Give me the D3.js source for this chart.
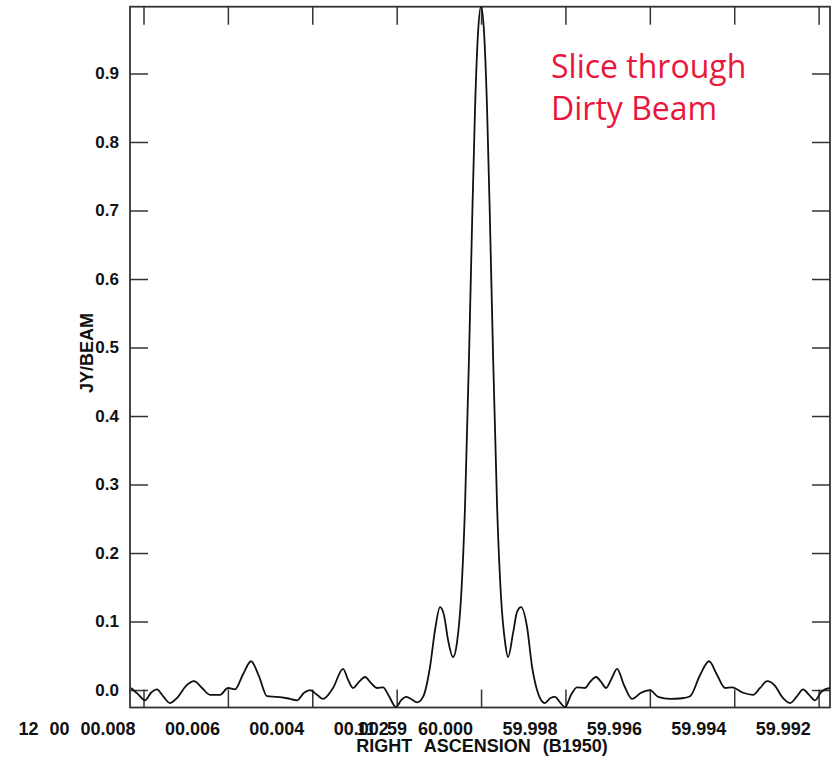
<!DOCTYPE html>
<html>
<head>
<meta charset="utf-8">
<script src="https://cdn.jsdelivr.net/npm/d3@7"></script>
<style>
  body { margin: 0; background: #fff; }
</style>
</head>
<body>
<svg id="chart" width="833" height="758"></svg>
<script>
// slice through the dirty beam: offset from beam centre (ms of RA) and Jy/beam
var offsetMs = [-8.296, -8.130, -7.964, -7.822, -7.680, -7.537, -7.371, -7.182, -6.992, -6.802,
  -6.613, -6.423, -6.186, -5.997, -5.831, -5.641, -5.452, -5.262, -5.072, -4.835,
  -4.598, -4.361, -4.195, -4.053, -3.887, -3.745, -3.508, -3.271, -3.152, -3.034,
  -2.892, -2.749, -2.607, -2.465, -2.323, -2.181, -2.015, -1.896, -1.778, -1.659,
  -1.517, -1.375, -1.209, -1.090, -0.972, -0.877, -0.782, -0.664,
  -0.569, -0.474, -0.379, -0.284, -0.213, -0.142, -0.071, 0, 0.071, 0.142, 0.213, 0.284,
  0.379, 0.474, 0.569,
  0.640, 0.758, 0.853, 0.948, 1.090, 1.209, 1.327, 1.398, 1.517, 1.635,
  1.754, 1.872, 1.991, 2.133, 2.275, 2.465, 2.584, 2.726, 2.844, 2.963,
  3.081, 3.224, 3.389, 3.579, 3.792, 4.006, 4.195, 4.480, 4.764, 4.954,
  5.191, 5.404, 5.594, 5.783, 5.949, 6.210, 6.447, 6.613, 6.779, 6.968,
  7.134, 7.324, 7.490, 7.632, 7.774, 7.916, 8.059, 8.153, 8.270];
var beamJy = [0.003, -0.006, -0.015, -0.004, 0.001, -0.009, -0.019, -0.010, 0.006, 0.013,
  0.003, -0.007, -0.007, 0.003, 0.001, 0.023, 0.042, 0.020, -0.009, -0.010,
  -0.012, -0.015, -0.004, 0.000, -0.007, -0.013, 0.003, 0.031, 0.015, 0.003,
  0.012, 0.019, 0.010, 0.003, 0.004, -0.009, -0.025, -0.015, -0.010, -0.013,
  -0.018, -0.010, 0.034, 0.088, 0.121, 0.109, 0.073, 0.048,
  0.070, 0.135, 0.27, 0.49, 0.68, 0.85, 0.96, 0.998, 0.96, 0.85, 0.68, 0.49,
  0.27, 0.135, 0.070,
  0.048, 0.083, 0.114, 0.121, 0.092, 0.034, 0.000, -0.012, -0.019, -0.012,
  -0.010, -0.018, -0.025, -0.007, 0.004, 0.003, 0.012, 0.019, 0.012, 0.003,
  0.015, 0.031, 0.007, -0.013, -0.004, 0.000, -0.010, -0.013, -0.012, -0.009,
  0.022, 0.042, 0.022, 0.003, 0.004, -0.004, -0.007, 0.003, 0.013, 0.006,
  -0.010, -0.019, -0.009, 0.001, -0.007, -0.015, -0.003, 0.001, 0.003];

var yTicks = [0, 0.1, 0.2, 0.3, 0.4, 0.5, 0.6, 0.7, 0.8, 0.9];
var xTickOffsets = [-8, -6, -4, -2, 0, 2, 4, 6, 8];
var raCentre = 59.99916;   // seconds of RA at beam centre
var raSec = [60.008, 60.006, 60.004, 60.002, 60.000, 59.998, 59.996, 59.994, 59.992];
var raText = ["00.008", "00.006", "00.004", "00.002", "60.000", "59.998", "59.996", "59.994", "59.992"];
var raPrefix = ["12 00", "", "", "", "11 59", "", "", "", ""];

var svg = d3.select("#chart");
var plotL = 130, plotR = 830, plotT = 6.7, plotB = 707.5;

var x = d3.scaleLinear().domain([-8.32, 8.27]).range([plotL, plotR]);
var y = d3.scaleLinear().domain([-0.0255, 0.9975]).range([plotB, plotT]);

var font = "'Liberation Sans', Arial, Helvetica, sans-serif";

svg.append("clipPath").attr("id", "frame")
  .append("rect").attr("x", plotL).attr("y", plotT)
  .attr("width", plotR - plotL).attr("height", plotB - plotT);

// axes, ticks drawn inward
function styleAxis(g) {
  g.select(".domain").remove();
  g.selectAll(".tick line").attr("stroke", "#333").attr("stroke-width", 1.5);
  g.selectAll("text").attr("font-family", font).attr("font-weight", "bold")
    .attr("font-size", 17).attr("fill", "#111");
}

svg.append("g").attr("transform", "translate(" + plotL + ",0)")
  .call(d3.axisLeft(y).tickValues(yTicks).tickSize(-18).tickPadding(11).tickFormat(d3.format(".1f")))
  .call(styleAxis);
svg.append("g").attr("transform", "translate(" + plotR + ",0)")
  .call(d3.axisRight(y).tickValues(yTicks).tickSize(-18).tickFormat(""))
  .call(styleAxis);
svg.append("g").attr("transform", "translate(0," + plotB + ")")
  .call(d3.axisBottom(x).tickValues(xTickOffsets).tickSize(-18).tickFormat(""))
  .call(styleAxis);
svg.append("g").attr("transform", "translate(0," + plotT + ")")
  .call(d3.axisTop(x).tickValues(xTickOffsets).tickSize(-18).tickFormat(""))
  .call(styleAxis);

svg.append("rect").attr("x", plotL).attr("y", plotT)
  .attr("width", plotR - plotL).attr("height", plotB - plotT)
  .attr("fill", "none").attr("stroke", "#333").attr("stroke-width", 1.8);

// the beam slice
var pts = offsetMs.map(function (d, i) { return [d, beamJy[i]]; });
var line = d3.line()
  .x(function (d) { return x(d[0]); })
  .y(function (d) { return y(d[1]); })
  .curve(d3.curveMonotoneX);
svg.append("path").datum(pts)
  .attr("clip-path", "url(#frame)")
  .attr("d", line)
  .attr("fill", "none").attr("stroke", "#111").attr("stroke-width", 1.8);

// RA labels
var labelY = 735;
raSec.forEach(function (s, i) {
  var cx = x((raCentre - s) * 1000);
  var t = svg.append("text").attr("x", cx).attr("y", labelY)
    .attr("text-anchor", "middle")
    .attr("font-family", font).attr("font-weight", "bold").attr("font-size", 18)
    .attr("fill", "#111").text(raText[i]);
  if (raPrefix[i]) {
    var w = t.node().getComputedTextLength();
    svg.append("text").attr("x", cx - w / 2 - 11).attr("y", labelY)
      .attr("text-anchor", "end").attr("word-spacing", 6)
      .attr("font-family", font).attr("font-weight", "bold").attr("font-size", 18)
      .attr("fill", "#111").text(raPrefix[i]);
  }
});

svg.append("text").attr("x", 482).attr("y", 752)
  .attr("text-anchor", "middle").attr("word-spacing", 7)
  .attr("font-family", font).attr("font-weight", "bold").attr("font-size", 18)
  .attr("fill", "#111").text("RIGHT ASCENSION (B1950)");

svg.append("text").attr("transform", "translate(93,353) rotate(-90)")
  .attr("text-anchor", "middle")
  .attr("font-family", font).attr("font-weight", "bold").attr("font-size", 18)
  .attr("fill", "#111").text("JY/BEAM");

// annotation
var note = svg.append("text").attr("font-family", "'Open Sans', sans-serif")
  .attr("font-size", 32).attr("fill", "#e8173b");
note.append("tspan").attr("x", 551).attr("y", 78).text("Slice through");
note.append("tspan").attr("x", 551).attr("y", 120).text("Dirty Beam");
</script>
</body>
</html>
